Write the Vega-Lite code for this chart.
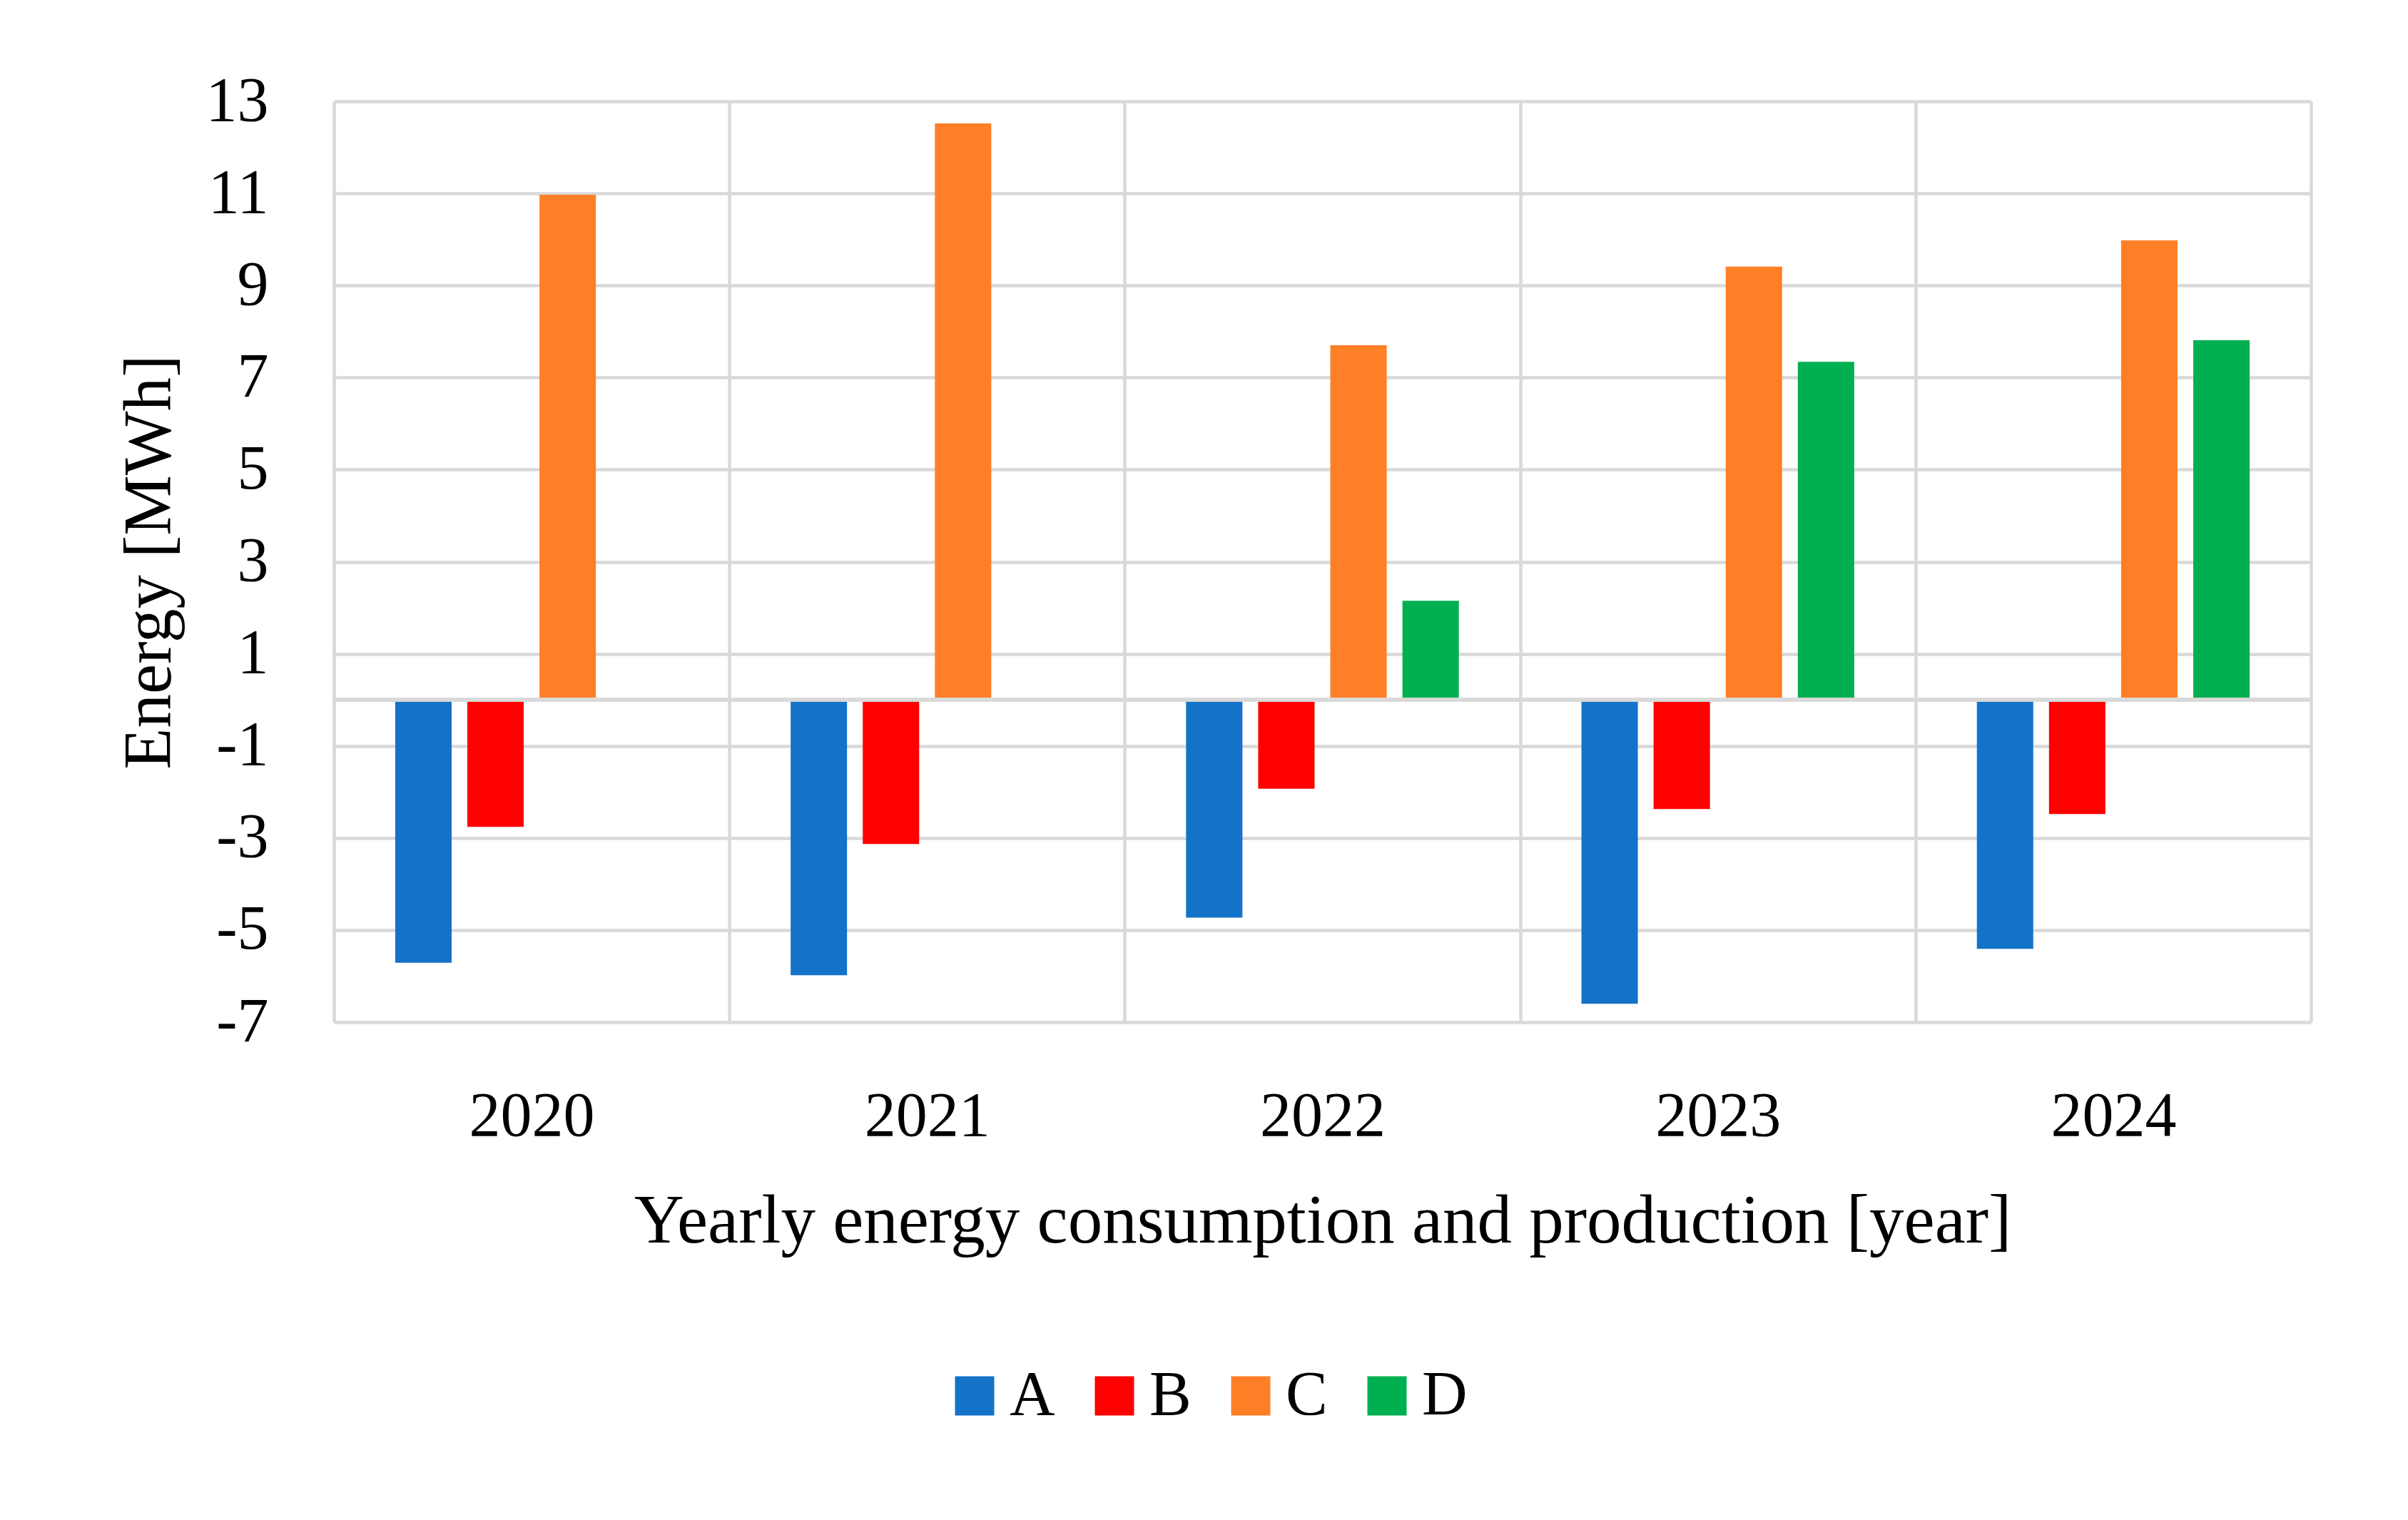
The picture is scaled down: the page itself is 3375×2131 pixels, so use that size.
{
  "$schema": "https://vega.github.io/schema/vega-lite/v6.json",
  "autosize": "none",
  "width": 2771,
  "height": 1291,
  "padding": {"left": 468, "top": 142, "right": 136, "bottom": 698},
  "background": "white",
  "data": {
    "values": [
      {"year": "2020", "series": "A", "energy": -5.71},
      {"year": "2020", "series": "B", "energy": -2.76},
      {"year": "2020", "series": "C", "energy": 10.97},
      {"year": "2021", "series": "A", "energy": -5.98},
      {"year": "2021", "series": "B", "energy": -3.13},
      {"year": "2021", "series": "C", "energy": 12.52},
      {"year": "2022", "series": "A", "energy": -4.73},
      {"year": "2022", "series": "B", "energy": -1.93},
      {"year": "2022", "series": "C", "energy": 7.70},
      {"year": "2022", "series": "D", "energy": 2.15},
      {"year": "2023", "series": "A", "energy": -6.60},
      {"year": "2023", "series": "B", "energy": -2.37},
      {"year": "2023", "series": "C", "energy": 9.41},
      {"year": "2023", "series": "D", "energy": 7.34},
      {"year": "2024", "series": "A", "energy": -5.41},
      {"year": "2024", "series": "B", "energy": -2.48},
      {"year": "2024", "series": "C", "energy": 9.98},
      {"year": "2024", "series": "D", "energy": 7.81}
    ]
  },
  "layer": [
    {
      "mark": {"type": "bar"},
      "encoding": {
        "x": {
          "field": "year",
          "type": "nominal",
          "scale": {"paddingInner": 0, "paddingOuter": 0},
          "axis": {
            "title": "Yearly energy consumption and production [year]",
            "labelAngle": 0,
            "ticks": false,
            "domain": false,
            "grid": true,
            "tickBand": "extent",
            "labelPadding": 88,
            "titlePadding": 55,
            "titleFontSize": 97
          }
        },
        "xOffset": {
          "field": "series",
          "type": "nominal",
          "scale": {"paddingInner": 0.218, "paddingOuter": 0.85}
        },
        "y": {
          "field": "energy",
          "type": "quantitative",
          "scale": {"domain": [-7, 13], "nice": false, "zero": false},
          "axis": {
            "title": "Energy [MWh]",
            "values": [-7, -5, -3, -1, 1, 3, 5, 7, 9, 11, 13],
            "labelExpr": "'' + datum.value",
            "ticks": false,
            "domain": false,
            "labelPadding": 92,
            "titlePadding": 30
          }
        },
        "color": {
          "field": "series",
          "type": "nominal",
          "scale": {
            "domain": ["A", "B", "C", "D"],
            "range": ["#1473C8", "#FF0000", "#FF7F27", "#00B050"]
          },
          "legend": {
            "title": null,
            "orient": "none",
            "direction": "horizontal",
            "legendX": 854,
            "legendY": 1771,
            "symbolType": "square",
            "symbolSize": 3025,
            "symbolStrokeWidth": 0,
            "labelOffset": 5,
            "columnPadding": 39,
            "padding": 0
          }
        }
      }
    },
    {
      "mark": {"type": "rule", "color": "#D9D9D9", "strokeWidth": 5},
      "encoding": {"y": {"datum": 0, "type": "quantitative"}}
    }
  ],
  "config": {
    "font": "Liberation Serif",
    "view": {"stroke": null},
    "axis": {
      "labelFont": "Liberation Serif",
      "titleFont": "Liberation Serif",
      "labelFontSize": 88,
      "titleFontSize": 95,
      "labelColor": "#000000",
      "titleColor": "#000000",
      "titleFontWeight": "normal",
      "gridColor": "#D9D9D9",
      "gridWidth": 4.5,
      "gridOpacity": 1
    },
    "legend": {
      "labelFont": "Liberation Serif",
      "labelFontSize": 88,
      "labelColor": "#000000"
    }
  }
}
